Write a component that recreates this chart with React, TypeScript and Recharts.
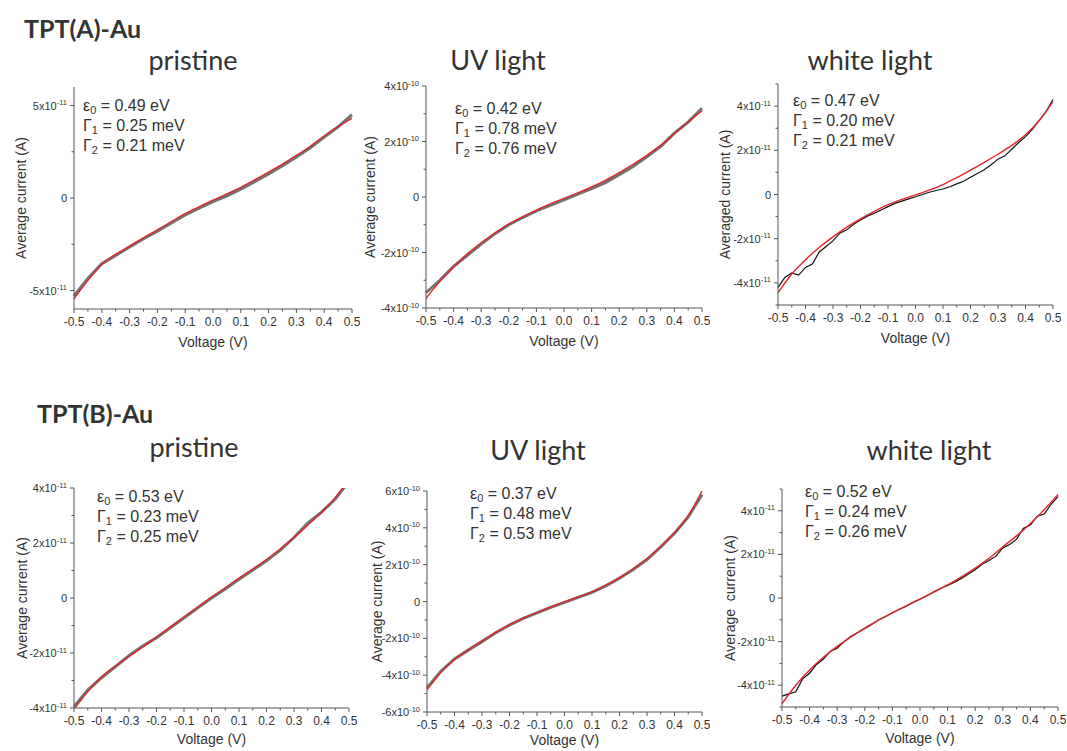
import { LineChart, Line, XAxis, YAxis, Label } from 'recharts'

// voltage grids (V)
const voltage = [-0.5, -0.45, -0.4, -0.35, -0.3, -0.25, -0.2, -0.15, -0.1, -0.05, 0, 0.05, 0.1, 0.15, 0.2, 0.25, 0.3, 0.35, 0.4, 0.45, 0.5]
const voltageFine = [
  -0.5, -0.475, -0.45, -0.425, -0.4, -0.375, -0.35, -0.325, -0.3, -0.275, -0.25, -0.225, -0.2, -0.175, -0.15, -0.125, -0.1, -0.075, -0.05, -0.025,
  0, 0.025, 0.05, 0.075, 0.1, 0.125, 0.15, 0.175, 0.2, 0.225, 0.25, 0.275, 0.3, 0.325, 0.35, 0.375, 0.4, 0.425, 0.45, 0.475, 0.5,
]
const xTicks = voltage

// TPT(A)-Au, pristine (x1e-11 A)
const aPristineData = [-5.3, -4.35, -3.55, -3.1, -2.65, -2.2, -1.8, -1.35, -0.92, -0.55, -0.2, 0.12, 0.48, 0.88, 1.3, 1.75, 2.22, 2.72, 3.3, 3.85, 4.5]
const aPristineFit = [-5.45, -4.45, -3.6, -3.05, -2.6, -2.15, -1.72, -1.28, -0.85, -0.48, -0.12, 0.22, 0.58, 0.98, 1.4, 1.83, 2.3, 2.8, 3.35, 3.85, 4.3]

// TPT(A)-Au, UV light (x1e-10 A)
const aUvData = [-3.45, -3.0, -2.5, -2.1, -1.7, -1.32, -1.0, -0.74, -0.5, -0.3, -0.1, 0.1, 0.3, 0.52, 0.8, 1.1, 1.45, 1.82, 2.3, 2.7, 3.2]
const aUvFit = [-3.65, -3.05, -2.52, -2.05, -1.65, -1.3, -0.98, -0.72, -0.48, -0.25, -0.05, 0.15, 0.36, 0.6, 0.88, 1.18, 1.5, 1.86, 2.28, 2.72, 3.1]

// TPT(A)-Au, white light (x1e-11 A)
const aWhiteData = [
  -4.2, -3.75, -3.55, -3.65, -3.3, -3.15, -2.6, -2.35, -2.1, -1.75, -1.6, -1.35, -1.15, -0.98, -0.85, -0.7, -0.55, -0.4, -0.3, -0.2,
  -0.1, 0.0, 0.1, 0.18, 0.25, 0.35, 0.48, 0.6, 0.78, 0.95, 1.12, 1.35, 1.6, 1.75, 2.05, 2.35, 2.62, 2.95, 3.35, 3.75, 4.3,
]
const aWhiteFit = [-4.45, -3.6, -2.95, -2.4, -1.92, -1.48, -1.1, -0.76, -0.46, -0.22, -0.02, 0.2, 0.45, 0.76, 1.1, 1.45, 1.82, 2.22, 2.7, 3.35, 4.2]

// TPT(B)-Au, pristine (x1e-11 A)
const bPristineData = [-3.95, -3.35, -2.9, -2.5, -2.1, -1.75, -1.45, -1.08, -0.72, -0.36, 0.0, 0.33, 0.68, 1.02, 1.35, 1.74, 2.2, 2.72, 3.12, 3.6, 4.25]
const bPristineFit = [-4.05, -3.4, -2.87, -2.48, -2.12, -1.78, -1.42, -1.06, -0.7, -0.33, 0.03, 0.37, 0.72, 1.05, 1.4, 1.78, 2.2, 2.65, 3.12, 3.65, 4.3]

// TPT(B)-Au, UV light (x1e-10 A)
const bUvData = [-4.7, -3.8, -3.12, -2.64, -2.18, -1.7, -1.28, -0.92, -0.62, -0.32, -0.05, 0.22, 0.5, 0.85, 1.26, 1.74, 2.28, 2.96, 3.7, 4.6, 5.8]
const bUvFit = [-4.8, -3.85, -3.15, -2.62, -2.15, -1.68, -1.25, -0.9, -0.6, -0.3, -0.02, 0.25, 0.52, 0.88, 1.3, 1.78, 2.32, 3.0, 3.75, 4.65, 6.0]

// TPT(B)-Au, white light (x1e-11 A)
const bWhiteData = [
  -4.5, -4.4, -4.3, -3.7, -3.45, -3.05, -2.8, -2.45, -2.3, -2.0, -1.75, -1.58, -1.4, -1.22, -1.0, -0.85, -0.68, -0.52, -0.38, -0.2,
  -0.05, 0.1, 0.28, 0.45, 0.58, 0.72, 0.9, 1.1, 1.3, 1.55, 1.72, 1.92, 2.3, 2.45, 2.7, 3.2, 3.35, 3.75, 3.85, 4.3, 4.65,
]
const bWhiteFit = [-4.85, -4.0, -3.3, -2.72, -2.22, -1.78, -1.38, -1.02, -0.68, -0.36, -0.05, 0.27, 0.6, 0.97, 1.37, 1.82, 2.35, 2.85, 3.42, 4.05, 4.75]

// y ticks (in units of the panel exponent)
const ticksA1 = [-5, -2.5, 0, 2.5, 5]
const majorsA1 = [-5, 0, 5]
const ticks4 = [-4, -3, -2, -1, 0, 1, 2, 3, 4]
const ticks5 = [-5, -4, -3, -2, -1, 0, 1, 2, 3, 4, 5]
const ticks6 = [-6, -5, -4, -3, -2, -1, 0, 1, 2, 3, 4, 5, 6]
const majors4 = [-4, -2, 0, 2, 4]
const majors6 = [-6, -4, -2, 0, 2, 4, 6]

const paramsA1 = ['0.49 eV', '0.25 meV', '0.21 meV']
const paramsA2 = ['0.42 eV', '0.78 meV', '0.76 meV']
const paramsA3 = ['0.47 eV', '0.20 meV', '0.21 meV']
const paramsB1 = ['0.53 eV', '0.23 meV', '0.25 meV']
const paramsB2 = ['0.37 eV', '0.48 meV', '0.53 meV']
const paramsB3 = ['0.52 eV', '0.24 meV', '0.26 meV']

const AXIS = '#555'
const TEXT = '#333'
const SANS = '"Liberation Sans", Arial, sans-serif'
const TITLE_FONT = 'Lato, "Noto Sans", sans-serif'

interface Panel {
  title: string
  titleX: number
  titleY: number
  x0: number
  x1: number
  y0: number
  y1: number
  domain: [number, number]
  yTicks: number[]
  yMajors: number[]
  exp: string
  yLabel: string
  yLabelX: number
  xLabelGap: number
  dataX: number[]
  data: number[]
  fit: number[]
  noisy: boolean
  params: string[]
  paramX: number
  paramY: number
}

const panels: Panel[] = [
  { title: 'pristine', titleX: 193, titleY: 60, x0: 74, x1: 352, y0: 87, y1: 309, domain: [-6, 6], yTicks: ticksA1, yMajors: majorsA1, exp: '-11',
    yLabel: 'Average current (A)', yLabelX: 21, xLabelGap: 38, dataX: voltage, data: aPristineData, fit: aPristineFit, noisy: false, params: paramsA1, paramX: 83, paramY: 96 },
  { title: 'UV light', titleX: 498, titleY: 60, x0: 426, x1: 702, y0: 86, y1: 308, domain: [-4, 4], yTicks: ticks4, yMajors: majors4, exp: '-10',
    yLabel: 'Average current (A)', yLabelX: 370, xLabelGap: 38, dataX: voltage, data: aUvData, fit: aUvFit, noisy: false, params: paramsA2, paramX: 455, paramY: 99 },
  { title: 'white light', titleX: 870, titleY: 60, x0: 778, x1: 1053, y0: 84, y1: 305, domain: [-5, 5], yTicks: ticks5, yMajors: majors4, exp: '-11',
    yLabel: 'Averaged current (A)', yLabelX: 725, xLabelGap: 38, dataX: voltageFine, data: aWhiteData, fit: aWhiteFit, noisy: true, params: paramsA3, paramX: 793, paramY: 91 },
  { title: 'pristine', titleX: 194, titleY: 447, x0: 74, x1: 349, y0: 488, y1: 708, domain: [-4, 4], yTicks: ticks4, yMajors: majors4, exp: '-11',
    yLabel: 'Average current (A)', yLabelX: 22, xLabelGap: 36, dataX: voltage, data: bPristineData, fit: bPristineFit, noisy: false, params: paramsB1, paramX: 97, paramY: 487 },
  { title: 'UV light', titleX: 538, titleY: 450, x0: 427, x1: 702, y0: 491, y1: 712, domain: [-6, 6], yTicks: ticks6, yMajors: majors6, exp: '-10',
    yLabel: 'Average current (A)', yLabelX: 377, xLabelGap: 33, dataX: voltage, data: bUvData, fit: bUvFit, noisy: false, params: paramsB2, paramX: 470, paramY: 484 },
  { title: 'white light', titleX: 929, titleY: 450, x0: 782, x1: 1058, y0: 489, y1: 707, domain: [-5, 5], yTicks: ticks5, yMajors: majors4, exp: '-11',
    yLabel: 'Average  current (A)', yLabelX: 730, xLabelGap: 36, dataX: voltageFine, data: bWhiteData, fit: bWhiteFit, noisy: true, params: paramsB3, paramX: 805, paramY: 482 },
]

const ML = 72
const MT = 10

function XTick(props: any) {
  const { x, y, payload } = props
  const v = payload.value as number
  const major = Math.abs(Math.round(v * 100)) % 10 === 0
  return (
    <g>
      <line x1={x} x2={x} y1={y} y2={y + (major ? 4 : 2.5)} stroke={AXIS} strokeWidth={1} />
      {major && (
        <text x={x} y={y + 17} textAnchor="middle" fontSize={12} fill={TEXT} fontFamily={SANS}>
          {v.toFixed(1)}
        </text>
      )}
    </g>
  )
}

function YTick(props: any, majors: number[], exp: string) {
  const { x, y, payload } = props
  const v = payload.value as number
  const major = majors.includes(v)
  return (
    <g>
      <line x1={x - (major ? 4 : 2.5)} x2={x} y1={y} y2={y} stroke={AXIS} strokeWidth={1} />
      {major && (
        <text x={x - 7} y={y + 4} textAnchor="end" fontSize={11} fill={TEXT} fontFamily={SANS}>
          {v === 0 ? '0' : `${v}x10`}
          {v !== 0 && <tspan dy={-4.5} fontSize={7.5}>{exp}</tspan>}
        </text>
      )}
    </g>
  )
}

function Params({ p }: { p: Panel }) {
  const rows: [string, string, string][] = [
    ['ε', '0', p.params[0]],
    ['Γ', '1', p.params[1]],
    ['Γ', '2', p.params[2]],
  ]
  return (
    <div style={{ position: 'absolute', left: p.paramX, top: p.paramY, fontFamily: SANS, fontSize: 16, color: TEXT }}>
      {rows.map(([sym, sub, val], i) => (
        <div key={i} style={{ height: 20, lineHeight: '20px', whiteSpace: 'nowrap' }}>
          {sym}
          <span style={{ fontSize: 11, position: 'relative', top: 3 }}>{sub}</span>
          {` = ${val}`}
        </div>
      ))}
    </div>
  )
}

function PanelChart({ p }: { p: Panel }) {
  const w = p.x1 - p.x0
  const h = p.y1 - p.y0
  const left = p.x0 - ML
  const top = p.y0 - MT
  const dataRows = p.dataX.map((v, i) => ({ v, y: p.data[i] }))
  const fitRows = voltage.map((v, i) => ({ v, y: p.fit[i] }))
  return (
    <div style={{ position: 'absolute', left, top }}>
      <LineChart width={w + ML + 8} height={h + MT + 45} margin={{ top: MT, right: 8, left: 0, bottom: 0 }}>
        <XAxis
          type="number"
          dataKey="v"
          domain={[-0.5, 0.5]}
          ticks={xTicks}
          interval={0}
          height={45}
          tickSize={0}
          tickMargin={0}
          tickLine={false}
          axisLine={{ stroke: AXIS, strokeWidth: 1 }}
          tick={(tp: any) => <XTick {...tp} />}
        >
          <Label
            content={() => (
              <text x={ML + w / 2} y={MT + h + p.xLabelGap} textAnchor="middle" fontSize={14} fill={TEXT} fontFamily={SANS}>
                Voltage (V)
              </text>
            )}
          />
        </XAxis>
        <YAxis
          type="number"
          dataKey="y"
          width={ML}
          domain={p.domain}
          allowDataOverflow
          ticks={p.yTicks}
          interval={0}
          tickSize={0}
          tickMargin={0}
          tickLine={false}
          axisLine={{ stroke: AXIS, strokeWidth: 1 }}
          tick={(tp: any) => YTick(tp, p.yMajors, p.exp)}
        >
          <Label
            content={() => (
              <text
                transform={`translate(${p.yLabelX - left},${MT + h / 2}) rotate(-90)`}
                textAnchor="middle"
                dy={5}
                fontSize={14}
                fill={TEXT}
                fontFamily={SANS}
                style={{ whiteSpace: 'pre' }}
              >
                {p.yLabel}
              </text>
            )}
          />
        </YAxis>
        <Line
          data={dataRows}
          dataKey="y"
          type="linear"
          stroke={p.noisy ? '#111' : '#6f746f'}
          strokeWidth={p.noisy ? 1.2 : 3}
          dot={false}
          isAnimationActive={false}
        />
        <Line
          data={fitRows}
          dataKey="y"
          type="monotone"
          stroke="#e3262c"
          strokeWidth={1.4}
          dot={false}
          isAnimationActive={false}
        />
      </LineChart>
    </div>
  )
}

export default function App() {
  const heading = { position: 'absolute' as const, fontFamily: TITLE_FONT, color: TEXT, whiteSpace: 'nowrap' as const }
  return (
    <div style={{ position: 'absolute', left: 0, top: 0, width: 1067, height: 751, background: '#fff', overflow: 'hidden' }}>
      <div style={{ ...heading, left: 24, top: 13, fontSize: 25, fontWeight: 700 }}>TPT(A)-Au</div>
      <div style={{ ...heading, left: 37, top: 398, fontSize: 25, fontWeight: 700 }}>TPT(B)-Au</div>
      {panels.map((p, i) => (
        <div
          key={`t${i}`}
          style={{ ...heading, left: p.titleX - 100, width: 200, textAlign: 'center', top: p.titleY - 17, fontSize: 27, lineHeight: '34px' }}
        >
          {p.title}
        </div>
      ))}
      {panels.map((p, i) => (
        <PanelChart key={`c${i}`} p={p} />
      ))}
      {panels.map((p, i) => (
        <Params key={`p${i}`} p={p} />
      ))}
    </div>
  )
}
